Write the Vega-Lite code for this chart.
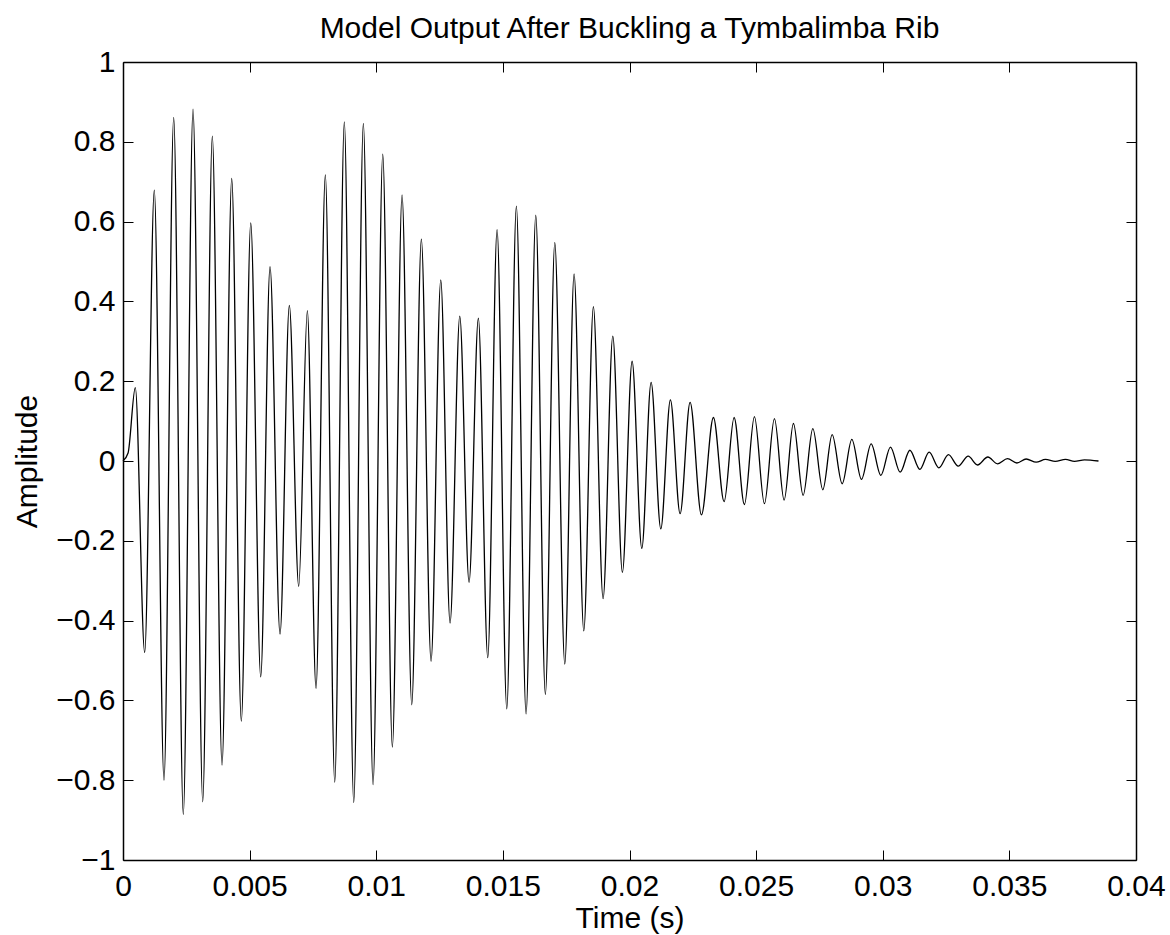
{
  "$schema": "https://vega.github.io/schema/vega-lite/v6.json",
  "width": 1013,
  "height": 798,
  "autosize": "none",
  "padding": {"left": 123, "top": 62, "right": 34, "bottom": 75},
  "background": "white",
  "title": {"text": "Model Output After Buckling a Tymbalimba Rib", "font": "Liberation Sans", "fontSize": 30, "fontWeight": "normal", "color": "black", "anchor": "middle", "baseline": "alphabetic", "offset": -21},
  "data": {"values": [
    {"t": 0, "a": 0},
    {"t": 0.0002, "a": 0.02},
    {"t": 0.000486, "a": 0.184},
    {"t": 0.000857, "a": -0.480},
    {"t": 0.001236, "a": 0.679},
    {"t": 0.001619, "a": -0.800},
    {"t": 0.002002, "a": 0.861},
    {"t": 0.002381, "a": -0.886},
    {"t": 0.002765, "a": 0.882},
    {"t": 0.003148, "a": -0.854},
    {"t": 0.003527, "a": 0.814},
    {"t": 0.003910, "a": -0.762},
    {"t": 0.004293, "a": 0.708},
    {"t": 0.004672, "a": -0.652},
    {"t": 0.005044, "a": 0.597},
    {"t": 0.005438, "a": -0.541},
    {"t": 0.005806, "a": 0.487},
    {"t": 0.006201, "a": -0.434},
    {"t": 0.006568, "a": 0.390},
    {"t": 0.006939, "a": -0.314},
    {"t": 0.007279, "a": 0.377},
    {"t": 0.007622, "a": -0.570},
    {"t": 0.007990, "a": 0.717},
    {"t": 0.008361, "a": -0.805},
    {"t": 0.008740, "a": 0.850},
    {"t": 0.009111, "a": -0.856},
    {"t": 0.009491, "a": 0.846},
    {"t": 0.009874, "a": -0.811},
    {"t": 0.010257, "a": 0.769},
    {"t": 0.010636, "a": -0.717},
    {"t": 0.011019, "a": 0.667},
    {"t": 0.011402, "a": -0.611},
    {"t": 0.011781, "a": 0.556},
    {"t": 0.012164, "a": -0.502},
    {"t": 0.012547, "a": 0.454},
    {"t": 0.012915, "a": -0.406},
    {"t": 0.013298, "a": 0.363},
    {"t": 0.013665, "a": -0.304},
    {"t": 0.014032, "a": 0.358},
    {"t": 0.014404, "a": -0.493},
    {"t": 0.014771, "a": 0.580},
    {"t": 0.015154, "a": -0.621},
    {"t": 0.015533, "a": 0.639},
    {"t": 0.015916, "a": -0.634},
    {"t": 0.016299, "a": 0.616},
    {"t": 0.016678, "a": -0.585},
    {"t": 0.017050, "a": 0.548},
    {"t": 0.017445, "a": -0.509},
    {"t": 0.017812, "a": 0.469},
    {"t": 0.018195, "a": -0.426},
    {"t": 0.018574, "a": 0.387},
    {"t": 0.018957, "a": -0.345},
    {"t": 0.019340, "a": 0.313},
    {"t": 0.019720, "a": -0.279},
    {"t": 0.020103, "a": 0.250},
    {"t": 0.020486, "a": -0.219},
    {"t": 0.020853, "a": 0.197},
    {"t": 0.021236, "a": -0.170},
    {"t": 0.021615, "a": 0.153},
    {"t": 0.021998, "a": -0.132},
    {"t": 0.022393, "a": 0.147},
    {"t": 0.022840, "a": -0.135},
    {"t": 0.023314, "a": 0.109},
    {"t": 0.023736, "a": -0.102},
    {"t": 0.024131, "a": 0.109},
    {"t": 0.024538, "a": -0.109},
    {"t": 0.024933, "a": 0.111},
    {"t": 0.025328, "a": -0.107},
    {"t": 0.025723, "a": 0.106},
    {"t": 0.026106, "a": -0.098},
    {"t": 0.026473, "a": 0.094},
    {"t": 0.026856, "a": -0.086},
    {"t": 0.027239, "a": 0.081},
    {"t": 0.027634, "a": -0.072},
    {"t": 0.028002, "a": 0.066},
    {"t": 0.028397, "a": -0.057},
    {"t": 0.028780, "a": 0.054},
    {"t": 0.029159, "a": -0.046},
    {"t": 0.029542, "a": 0.043},
    {"t": 0.029925, "a": -0.036},
    {"t": 0.030304, "a": 0.035},
    {"t": 0.030687, "a": -0.028},
    {"t": 0.031070, "a": 0.027},
    {"t": 0.031465, "a": -0.021},
    {"t": 0.031832, "a": 0.022},
    {"t": 0.032216, "a": -0.017},
    {"t": 0.032595, "a": 0.016},
    {"t": 0.032978, "a": -0.013},
    {"t": 0.033373, "a": 0.012},
    {"t": 0.033740, "a": -0.010},
    {"t": 0.034151, "a": 0.010},
    {"t": 0.034530, "a": -0.007},
    {"t": 0.034925, "a": 0.006},
    {"t": 0.035296, "a": -0.005},
    {"t": 0.035664, "a": 0.005},
    {"t": 0.036058, "a": -0.003},
    {"t": 0.036426, "a": 0.004},
    {"t": 0.036809, "a": -0.001},
    {"t": 0.037216, "a": 0.004},
    {"t": 0.037571, "a": -0.001},
    {"t": 0.037966, "a": 0.003},
    {"t": 0.038519, "a": 0.000}
  ]},
  "layer": [
    {
      "mark": {"type": "line", "interpolate": "monotone", "color": "black", "strokeWidth": 1.3},
      "encoding": {
        "x": {"field": "t", "type": "quantitative", "scale": {"domain": [0, 0.04], "nice": false, "zero": false},
              "axis": {"orient": "bottom", "title": "Time (s)", "values": [0, 0.005, 0.01, 0.015, 0.02, 0.025, 0.03, 0.035, 0.04], "format": ".3~f", "labelPadding": 21, "titlePadding": 2, "labelFlush": false, "labelOverlap": false}},
        "y": {"field": "a", "type": "quantitative", "scale": {"domain": [-1, 1], "nice": false, "zero": false},
              "axis": {"orient": "left", "title": "Amplitude", "values": [-1, -0.8, -0.6, -0.4, -0.2, 0, 0.2, 0.4, 0.6, 0.8, 1], "format": ".1~f", "labelPadding": 18, "titlePadding": 13, "labelOverlap": false}}
      }
    },
    {
      "mark": {"type": "line", "opacity": 0},
      "encoding": {
        "x": {"field": "t", "type": "quantitative", "scale": {"domain": [0, 0.04], "nice": false, "zero": false},
              "axis": {"orient": "top", "title": null, "labels": false, "values": [0, 0.005, 0.01, 0.015, 0.02, 0.025, 0.03, 0.035, 0.04]}},
        "y": {"field": "a", "type": "quantitative", "scale": {"domain": [-1, 1], "nice": false, "zero": false},
              "axis": {"orient": "right", "title": null, "labels": false, "values": [-1, -0.8, -0.6, -0.4, -0.2, 0, 0.2, 0.4, 0.6, 0.8, 1]}}
      }
    }
  ],
  "resolve": {"axis": {"x": "independent", "y": "independent"}},
  "config": {
    "font": "Liberation Sans",
    "view": {"stroke": null},
    "axis": {"grid": false, "domainColor": "black", "domainWidth": 1.5, "tickColor": "black", "tickWidth": 1, "tickSize": -10,
             "labelFont": "Liberation Sans", "labelFontSize": 30, "labelColor": "black",
             "titleFont": "Liberation Sans", "titleFontSize": 30, "titleFontWeight": "normal", "titleColor": "black"}
  }
}
